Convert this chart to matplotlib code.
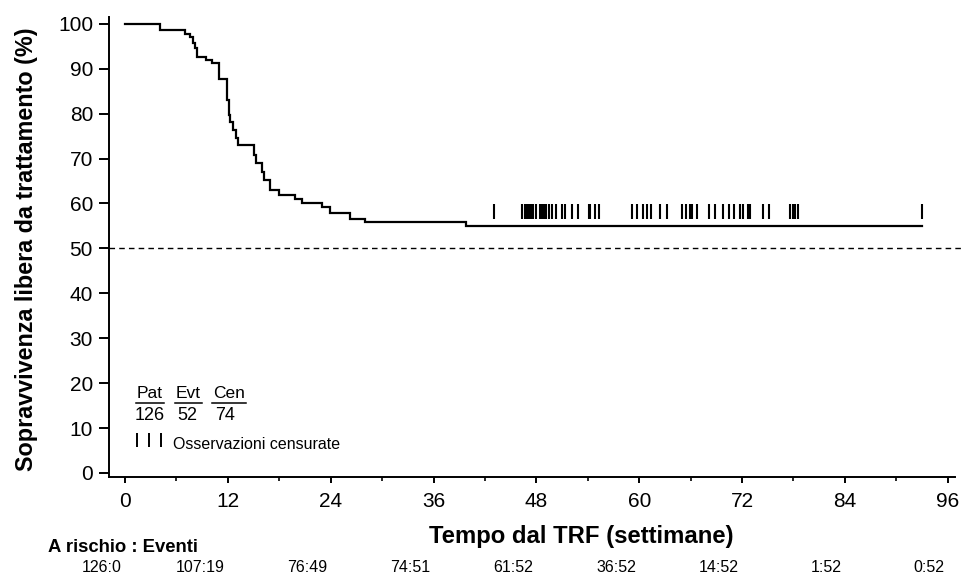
import matplotlib.pyplot as plt
from matplotlib.transforms import blended_transform_factory
import numpy as np

plt.rcParams['font.family'] = ['Liberation Sans', 'DejaVu Sans']

# Kaplan-Meier curve: weeks at which events occur and survival (%) after each drop
event_weeks = [4.1, 7.0, 7.6, 7.9, 8.2, 8.4, 9.5, 10.1, 11.0, 11.9, 12.1, 12.3,
               12.6, 12.9, 13.2, 15.0, 15.3, 16.0, 16.2, 16.9, 18.0, 19.8, 20.6,
               23.0, 23.9, 26.3, 28.0, 39.8]
event_surv = [98.7, 97.8, 97.0, 95.7, 94.6, 92.7, 92.0, 91.2, 87.7, 83.1, 79.7,
              78.2, 76.4, 74.5, 73.0, 70.8, 69.0, 67.1, 65.3, 63.0, 61.9, 61.0,
              60.2, 59.3, 57.8, 56.5, 55.9, 55.0]
last_week = 93.0

# censored observations (weeks)
censor_weeks = [43.1, 46.3, 46.7, 46.9, 47.1, 47.3, 47.5, 47.6, 48.0, 48.4, 48.7,
                48.9, 49.1, 49.5, 49.8, 50.3, 51.0, 51.3, 52.1, 52.8, 54.1, 54.3,
                54.8, 55.3, 59.1, 59.7, 60.4, 60.9, 61.4, 62.4, 63.2, 65.0, 65.5,
                65.9, 66.1, 66.7, 68.2, 68.8, 69.8, 70.5, 71.1, 71.8, 72.1, 72.7,
                72.9, 74.5, 75.1, 77.6, 77.9, 78.2, 78.5, 93.0]

# number at risk table
risk_weeks = [0, 12, 24, 36, 48, 60, 72, 84, 96]
at_risk = [126, 107, 76, 74, 61, 36, 14, 1, 0]
n_events = [0, 19, 49, 51, 52, 52, 52, 52, 52]

summary_heads = ['Pat', 'Evt', 'Cen']
summary_vals = [126, 52, 74]

fig = plt.figure(figsize=(9.68, 5.81), dpi=100)
ax = fig.add_axes([0.1126, 0.179, 0.874, 0.7923])

xs = [0] + event_weeks + [last_week]
ys = [100] + event_surv + [event_surv[-1]]
ax.step(xs, ys, where='post', color='black', lw=1.6, solid_joinstyle='miter')

# censor ticks sit just above the curve
cw = np.array(censor_weeks)
idx = np.searchsorted(np.array(xs), cw, side='right') - 1
lvl = np.array(ys)[idx]
ax.vlines(cw, lvl + 1.5, lvl + 4.9, color='black', lw=1.5)

ax.axhline(50, color='black', lw=1.0, ls=(0, (4, 3)), clip_on=False, xmax=1.01)

ax.set_xlim(-1.87, 96.85)
ax.set_ylim(-0.9, 101.6)
for s in ['top', 'right']:
    ax.spines[s].set_visible(False)
for s in ['left', 'bottom']:
    ax.spines[s].set_linewidth(1.4)

ax.set_xticks(risk_weeks)
ax.set_xticks(np.arange(6, 96, 12), minor=True)
ax.set_yticks(np.arange(0, 101, 10))
ax.tick_params(axis='y', length=7.5, width=1.4, labelsize=15, pad=4)
ax.tick_params(axis='x', which='major', length=4.5, width=1.4, labelsize=15, pad=6)
ax.tick_params(axis='x', which='minor', length=2.7, width=1.2)

# summary box in the lower left
head_x = [2.92, 7.41, 12.14]
val_x = [2.92, 7.29, 11.67]
line_x = [(1.28, 4.55), (5.83, 8.98), (10.15, 14.12)]
for h, v, hx, vx, (l0, l1) in zip(summary_heads, summary_vals, head_x, val_x, line_x):
    ax.text(hx, 16.0, h, ha='center', va='bottom', fontsize=12.5)
    ax.plot([l0, l1], [15.65, 15.65], color='black', lw=1.1)
    ax.text(vx, 12.7, str(v), ha='center', va='center', fontsize=13)
ax.vlines([1.44, 2.80, 4.20], 5.8, 8.9, color='black', lw=1.4)
ax.text(5.64, 6.4, 'Osservazioni censurate', ha='left', va='center', fontsize=11.5)

fig.text(27 / 968, 1 - 249 / 581, 'Sopravvivenza libera da trattamento (%)',
         rotation=90, ha='center', va='center', fontsize=16.8, fontweight='bold')
fig.text(581 / 968, 1 - 536 / 581, 'Tempo dal TRF (settimane)',
         ha='center', va='center', fontsize=17.2, fontweight='bold')
fig.text(48 / 968, 1 - 547 / 581, 'A rischio : Eventi',
         ha='left', va='center', fontsize=13.3, fontweight='bold')

tr = blended_transform_factory(ax.transData, fig.transFigure)
for w, r, e in zip(risk_weeks, at_risk, n_events):
    ax.text(w - 0.35, 1 - 568 / 581, f'{r}:{e}', transform=tr,
            ha='right', va='center', fontsize=11.5)

fig.savefig('out.png', dpi=100)
